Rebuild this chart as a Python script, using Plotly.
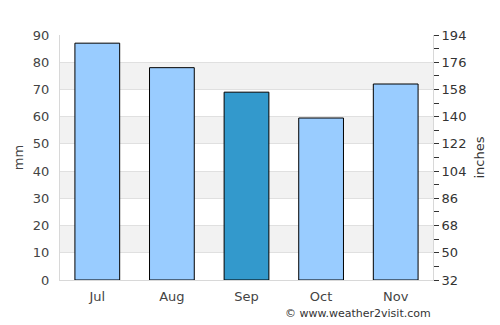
import plotly.graph_objects as go

months = ["Jul", "Aug", "Sep", "Oct", "Nov"]
rain_mm = [87, 78, 69, 59.5, 72]
bar_colors = ["#99ccff", "#99ccff", "#3399cc", "#99ccff", "#99ccff"]
left_ticks = [0, 10, 20, 30, 40, 50, 60, 70, 80, 90]
right_ticks = [32, 50, 68, 86, 104, 122, 140, 158, 176, 194]
bands = [(10, 20), (30, 40), (50, 60), (70, 80)]

font = "DejaVu Sans"
fig = go.Figure()
fig.add_trace(go.Bar(x=months, y=rain_mm, marker=dict(color=bar_colors, line=dict(color="black", width=1)),
                     width=0.6, hoverinfo="skip"))
fig.add_trace(go.Scatter(x=months, y=[None]*5, yaxis="y2", showlegend=False, hoverinfo="skip"))

shapes = []
for a, b in bands:
    shapes.append(dict(type="rect", xref="paper", yref="y", x0=0, x1=1, y0=a, y1=b,
                       fillcolor="#f2f2f2", line=dict(width=0), layer="below"))

fig.update_layout(
    width=500, height=325,
    margin=dict(l=60, r=67, t=35, b=45),
    paper_bgcolor="white", plot_bgcolor="white",
    showlegend=False,
    bargap=0.4,
    shapes=shapes,
    font=dict(family=font, size=13, color="#444"),
    xaxis=dict(showline=True, linecolor="#d8d8d8", linewidth=1, ticks="", showgrid=False,
               tickfont=dict(size=13, color="#444"), mirror=False, ticklabelstandoff=4),
    yaxis=dict(range=[0, 90], tickvals=left_ticks, showgrid=True, gridcolor="#e0e0e0", gridwidth=1,
               showline=True, linecolor="#d8d8d8", zeroline=False, ticklabelstandoff=7,
               title=dict(text="mm", font=dict(size=13, color="#444"), standoff=6),
               tickfont=dict(size=13, color="#444")),
    yaxis2=dict(range=[32, 194], tickvals=right_ticks, overlaying="y", side="right",
                showgrid=False, zeroline=False, showline=True, linecolor="#d8d8d8",
                ticks="outside", ticklen=5, tickcolor="#333",
                minor=dict(ticks="outside", ticklen=5, tickcolor="#333", dtick=9, tick0=32, showgrid=False),
                title=dict(text="inches", font=dict(size=13, color="#333"), standoff=9),
                tickfont=dict(size=13, color="#333")),
    annotations=[dict(text="© www.weather2visit.com", xref="paper", yref="paper", x=1.0, y=0,
                      xanchor="right", yanchor="top", yshift=-25, xshift=0, showarrow=False,
                      font=dict(size=11, color="#333"))],
)
fig.write_html("out.html")
